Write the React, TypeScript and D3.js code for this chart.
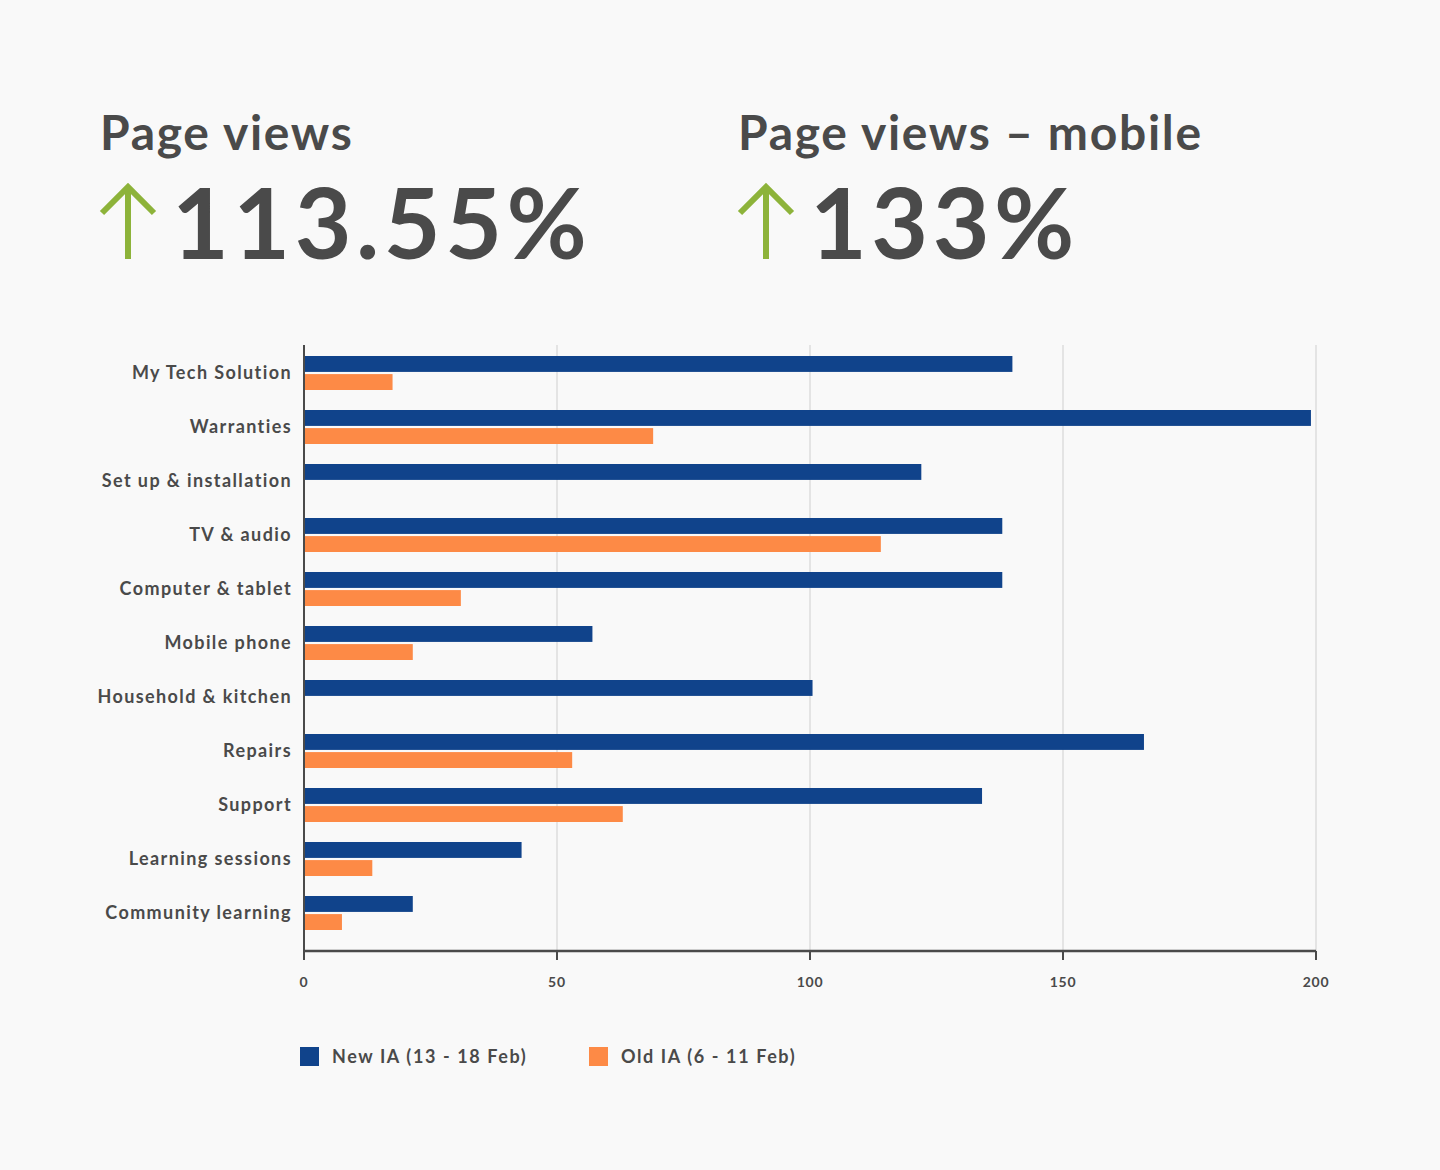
import { useEffect } from "react"
import * as d3 from "d3"

const categories = [
  "My Tech Solution",
  "Warranties",
  "Set up & installation",
  "TV & audio",
  "Computer & tablet",
  "Mobile phone",
  "Household & kitchen",
  "Repairs",
  "Support",
  "Learning sessions",
  "Community learning",
]

const newIA = [140, 199, 122, 138, 138, 57, 100.5, 166, 134, 43, 21.5]
const oldIA = [17.5, 69, 0, 114, 31, 21.5, 0, 53, 63, 13.5, 7.5]

const seriesNames = ["New IA (13 - 18 Feb)", "Old IA (6 - 11 Feb)"]
const seriesColors = ["#10438b", "#fd8a46"]
const xTicks = [0, 50, 100, 150, 200]

const headlines = [
  { title: "Page views", value: "113.55%" },
  { title: "Page views – mobile", value: "133%" },
]

const W = 1440
const H = 1170
const font = "Lato, 'Noto Sans', sans-serif"
const textColor = "#4a4a4a"
const green = "#8db33a"

export default function App() {
  useEffect(() => {
    document.body.style.margin = "0"
    document.body.style.background = "#f9f9f9"
  }, [])

  const x = d3.scaleLinear().domain([0, 200]).range([304, 1316])
  const y0 = d3.scaleBand<string>().domain(categories).range([345, 939])
  const y1 = d3.scaleBand<string>().domain(seriesNames).range([11, 45]).paddingInner(0.12)
  const plotTop = 345
  const plotBottom = 951

  const values = [newIA, oldIA]
  const headX = d3.scaleOrdinal<string, number>().domain(headlines.map((h) => h.title)).range([100, 738])

  return (
    <svg width={W} height={H} style={{ display: "block", background: "#f9f9f9" }} fontFamily={font}>
      <rect width={W} height={H} fill="#f9f9f9" />

      {/* Headline figures */}
      {headlines.map((h) => {
        const hx = headX(h.title)
        return (
          <g key={h.title} transform={`translate(${hx},0)`}>
            <text x={0} y={150} fontSize={48} fontWeight={700} fill={textColor} letterSpacing={1.7}>
              {h.title}
            </text>
            <g stroke={green} strokeWidth={6} fill="none">
              <line x1={28} y1={187} x2={28} y2={259} />
              <polyline points="2,213 28,187 54,213" />
            </g>
            <text x={72} y={259} fontSize={98} fontWeight={700} fill={textColor} letterSpacing={4.5}>
              {h.value}
            </text>
          </g>
        )
      })}

      {/* Grid */}
      {xTicks.slice(1).map((t) => (
        <line key={t} x1={x(t)} x2={x(t)} y1={plotTop} y2={plotBottom} stroke="#e4e4e4" strokeWidth={2} />
      ))}

      {/* Bars */}
      {categories.map((c, i) => (
        <g key={c} transform={`translate(0,${y0(c)})`}>
          {seriesNames.map((s, j) =>
            values[j][i] > 0 ? (
              <rect
                key={s}
                x={x(0)}
                y={y1(s)}
                width={x(values[j][i]) - x(0)}
                height={y1.bandwidth()}
                fill={seriesColors[j]}
              />
            ) : null,
          )}
          <text
            x={292}
            y={y0.bandwidth() / 2 + 1}
            dy="0.35em"
            textAnchor="end"
            fontSize={18}
            fontWeight={700}
            fill={textColor}
            letterSpacing={1.4}
          >
            {c}
          </text>
        </g>
      ))}

      {/* Axes */}
      <line x1={x(0)} x2={x(0)} y1={plotTop} y2={plotBottom + 9} stroke={textColor} strokeWidth={2} />
      <line x1={x(0)} x2={x(200)} y1={plotBottom} y2={plotBottom} stroke={textColor} strokeWidth={2.5} />
      {xTicks.map((t) => (
        <g key={t} transform={`translate(${x(t)},0)`}>
          <line y1={plotBottom} y2={plotBottom + 9} stroke={textColor} strokeWidth={2} />
          <text y={987} textAnchor="middle" fontSize={14} fontWeight={700} fill={textColor} letterSpacing={0.8}>
            {t}
          </text>
        </g>
      ))}

      {/* Legend */}
      {seriesNames.map((s, j) => {
        const lx = j === 0 ? 300 : 589
        return (
          <g key={s} transform={`translate(${lx},1047)`}>
            <rect width={19} height={19} fill={seriesColors[j]} />
            <text x={32} y={16} fontSize={18} fontWeight={700} fill={textColor} letterSpacing={1.6}>
              {s}
            </text>
          </g>
        )
      })}
    </svg>
  )
}
